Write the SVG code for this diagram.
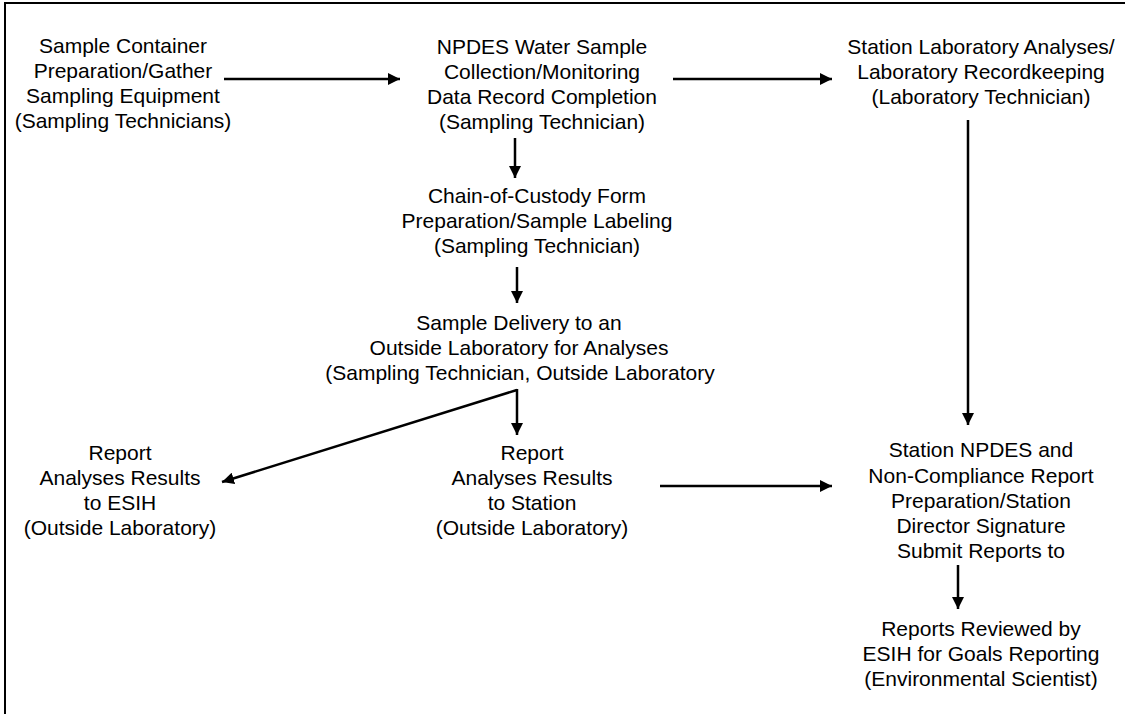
<svg xmlns="http://www.w3.org/2000/svg" width="1125" height="714" viewBox="0 0 1125 714">
<defs>
<style>
text{font-family:"Liberation Sans",Arial,sans-serif;font-size:21px;fill:#000;text-anchor:middle}
.c{stroke:#000;stroke-width:2.5;fill:none}
</style>
<marker id="ah" markerUnits="userSpaceOnUse" markerWidth="13" markerHeight="12" refX="12" refY="6" orient="auto">
<path d="M0,0 L12,6 L0,12 z" fill="#000"/>
</marker>
</defs>
<rect width="1125" height="714" fill="#fff"/>
<rect x="5" y="3" width="1130" height="730" fill="none" stroke="#000" stroke-width="2"/>
<g id="n1">
<text x="123" y="53">Sample Container</text>
<text x="123" y="78">Preparation/Gather</text>
<text x="123" y="103">Sampling Equipment</text>
<text x="123" y="128">(Sampling Technicians)</text>
</g>
<g id="n2">
<text x="542" y="54">NPDES Water Sample</text>
<text x="542" y="79">Collection/Monitoring</text>
<text x="542" y="104">Data Record Completion</text>
<text x="542" y="129">(Sampling Technician)</text>
</g>
<g id="n3">
<text x="981" y="54">Station Laboratory Analyses/</text>
<text x="981" y="79">Laboratory Recordkeeping</text>
<text x="981" y="104">(Laboratory Technician)</text>
</g>
<g id="n4">
<text x="537" y="203">Chain-of-Custody Form</text>
<text x="537" y="228">Preparation/Sample Labeling</text>
<text x="537" y="253">(Sampling Technician)</text>
</g>
<g id="n5">
<text x="519" y="330">Sample Delivery to an</text>
<text x="519" y="355">Outside Laboratory for Analyses</text>
<text x="520" y="380">(Sampling Technician, Outside Laboratory</text>
</g>
<g id="n6">
<text x="120" y="460">Report</text>
<text x="120" y="485">Analyses Results</text>
<text x="120" y="510">to ESIH</text>
<text x="120" y="535">(Outside Laboratory)</text>
</g>
<g id="n7">
<text x="532" y="460">Report</text>
<text x="532" y="485">Analyses Results</text>
<text x="532" y="510">to Station</text>
<text x="532" y="535">(Outside Laboratory)</text>
</g>
<g id="n8">
<text x="981" y="457">Station NPDES and</text>
<text x="981" y="483">Non-Compliance Report</text>
<text x="981" y="508">Preparation/Station</text>
<text x="981" y="533">Director Signature</text>
<text x="981" y="558">Submit Reports to</text>
</g>
<g id="n9">
<text x="981" y="636">Reports Reviewed by</text>
<text x="981" y="661">ESIH for Goals Reporting</text>
<text x="981" y="686">(Environmental Scientist)</text>
</g>
<g id="connectors">
<line class="c" x1="224" y1="79" x2="400" y2="79" marker-end="url(#ah)"/>
<line class="c" x1="673" y1="79" x2="832" y2="79" marker-end="url(#ah)"/>
<line class="c" x1="515" y1="138" x2="515" y2="178" marker-end="url(#ah)"/>
<line class="c" x1="517" y1="267" x2="517" y2="303" marker-end="url(#ah)"/>
<line class="c" x1="517" y1="389" x2="517" y2="435" marker-end="url(#ah)"/>
<line class="c" x1="517" y1="390" x2="222" y2="482" marker-end="url(#ah)"/>
<line class="c" x1="660" y1="486" x2="832" y2="486" marker-end="url(#ah)"/>
<line class="c" x1="968" y1="120" x2="968" y2="425" marker-end="url(#ah)"/>
<line class="c" x1="958" y1="565" x2="958" y2="609" marker-end="url(#ah)"/>
</g>
</svg>
